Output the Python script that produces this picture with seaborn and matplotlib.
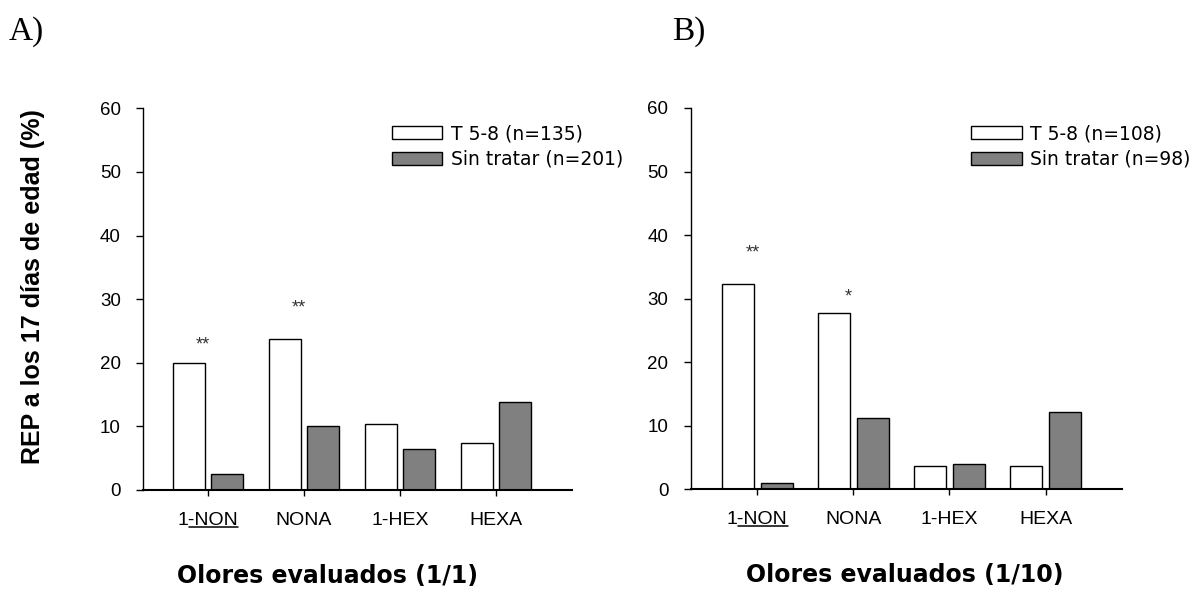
import matplotlib
matplotlib.use("Agg")
import matplotlib.pyplot as plt
from matplotlib.patches import Patch
from matplotlib.lines import Line2D
import pandas as pd
import seaborn as sns

# ---- data -------------------------------------------------------------
odors = ["1-NON", "NONA", "1-HEX", "HEXA"]
groups = ["T 5-8", "Sin tratar"]
y_ticks = [0, 10, 20, 30, 40, 50, 60]

# Panel A: odours at 1/1
a_treated = [20.0, 23.7, 10.3, 7.4]
a_untreated = [2.5, 10.0, 6.4, 13.9]
a_n = [135, 201]
a_sig = ["**", "**", "", ""]
a_sig_y = [22.8, 28.6, 0, 0]

# Panel B: odours at 1/10
b_treated = [32.3, 27.7, 3.7, 3.7]
b_untreated = [1.0, 11.2, 4.0, 12.2]
b_n = [108, 98]
b_sig = ["**", "*", "", ""]
b_sig_y = [37.2, 30.2, 0, 0]

# ---- style ------------------------------------------------------------
sns.set_theme(style="ticks")
plt.rcParams["font.family"] = ["Liberation Sans", "DejaVu Sans"]
for key in ["axes.edgecolor", "xtick.color", "ytick.color", "text.color",
            "axes.labelcolor", "xtick.labelcolor", "ytick.labelcolor"]:
    plt.rcParams[key] = "black"

colors = {"T 5-8": "#ffffff", "Sin tratar": "#808080"}
W, H = 1199, 593
fig = plt.figure(figsize=(W / 100, H / 100), dpi=100)


def px_rect(x0, x1, y_top, y_bot):
    return [x0 / W, 1 - y_bot / H, (x1 - x0) / W, (y_bot - y_top) / H]


def draw_panel(ax, treated, untreated, n, sig, sig_y, xlabel, xlabel_x, xlim,
               legend_xy):
    df = pd.DataFrame({
        "odor": odors * 2,
        "group": [groups[0]] * len(odors) + [groups[1]] * len(odors),
        "value": list(treated) + list(untreated),
    })
    sns.barplot(data=df, x="odor", y="value", hue="group", order=odors,
                hue_order=groups, palette=colors, edgecolor="black",
                linewidth=1.0, width=0.8, gap=0.167, saturation=1,
                legend=False, ax=ax, zorder=2)
    ax.set_xlim(*xlim)
    ax.set_ylim(0, 60)
    ax.set_yticks(y_ticks)
    ax.set_yticklabels([str(t) for t in y_ticks])
    for s in ["top", "right"]:
        ax.spines[s].set_visible(False)
    ax.spines["left"].set_linewidth(1.0)
    ax.spines["bottom"].set_linewidth(1.5)
    ax.tick_params(axis="y", direction="out", length=5, width=1.0, pad=11,
                   labelsize=13.5)
    ax.tick_params(axis="x", direction="out", length=4.5, width=1.0, pad=11,
                   labelsize=14)
    ax.set_xlabel(xlabel, fontsize=17, fontweight="bold",
                  family="DejaVu Sans")
    ax.xaxis.set_label_coords(xlabel_x, -0.193)
    ax.set_ylabel("")

    # significance marks above the treated bars
    for i, (mark, yv) in enumerate(zip(sig, sig_y)):
        if mark:
            ax.text(i - 0.05, yv, mark, ha="center", va="center",
                    fontsize=13, color="#333333")

    handles = [Patch(facecolor=colors[g], edgecolor="black", linewidth=1.0)
               for g in groups]
    labels = [f"{g} (n={k})" for g, k in zip(groups, n)]
    ax.legend(handles, labels, loc="upper left", bbox_to_anchor=legend_xy,
              bbox_transform=fig.transFigure, frameon=False,
              prop={"family": "DejaVu Sans", "size": 13.5},
              handlelength=2.7, handleheight=0.7, handletextpad=0.45,
              labelspacing=0.36, borderpad=0, borderaxespad=0)


ax_a = fig.add_axes(px_rect(143, 572, 108.3, 490))
ax_b = fig.add_axes(px_rect(690.7, 1122.4, 108, 489.3))

draw_panel(ax_a, a_treated, a_untreated, a_n, a_sig, a_sig_y,
           "Olores evaluados (1/1)", 0.431, (-0.677, 3.79),
           (391.7 / W, 1 - 124 / H))
draw_panel(ax_b, b_treated, b_untreated, b_n, b_sig, b_sig_y,
           "Olores evaluados (1/10)", 0.496, (-0.694, 3.80),
           (971 / W, 1 - 124 / H))

ax_a.set_ylabel("REP a los 17 días de edad (%)", fontsize=18,
                fontweight="bold")
ax_a.yaxis.set_label_coords(-0.228, 0.532)

fig.text(9 / W, 1 - 39.5 / H, "A)", family="Liberation Serif", fontsize=24,
         ha="left", va="baseline")
fig.text(672 / W, 1 - 39.5 / H, "B)", family="Liberation Serif", fontsize=24,
         ha="left", va="baseline")

# underline "-NON" in the first category label of each panel
fig.canvas.draw()
renderer = fig.canvas.get_renderer()
for ax in (ax_a, ax_b):
    lab = ax.get_xticklabels()[0]
    bb = lab.get_window_extent(renderer)
    fp = lab.get_fontproperties()
    w1, _, _ = renderer.get_text_width_height_descent("1", fp, ismath=False)
    # text boxes are laid out with the descent of "lp"
    _, _, desc = renderer.get_text_width_height_descent("lp", fp, ismath=False)
    y = bb.y0 + desc - 2.0
    x0, x1 = bb.x0 + w1, bb.x1
    (fx0, fy), (fx1, _) = fig.transFigure.inverted().transform(
        [(x0, y), (x1, y)])
    fig.add_artist(Line2D([fx0, fx1], [fy, fy], color="black", linewidth=1.1,
                          transform=fig.transFigure))

fig.savefig("out.png", dpi=100)
